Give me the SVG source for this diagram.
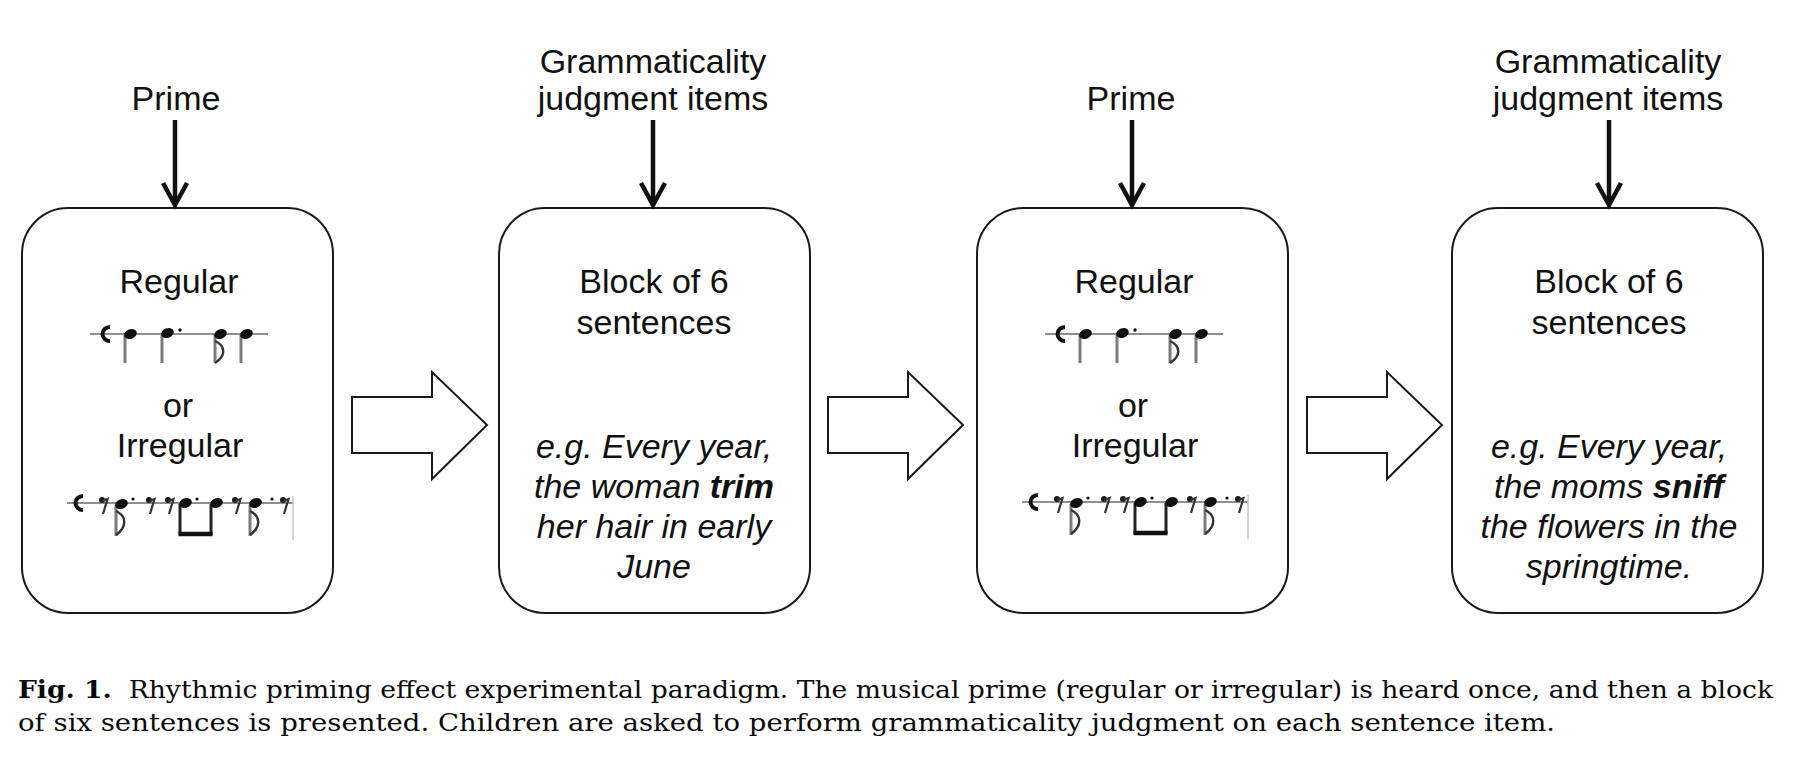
<svg xmlns="http://www.w3.org/2000/svg" xmlns:xlink="http://www.w3.org/1999/xlink" width="1817" height="760" viewBox="0 0 1817 760">
<style>
.box{fill:#fff;stroke:#1a1a1a;stroke-width:2}
.blk{fill:#fff;stroke:#1a1a1a;stroke-width:2;stroke-linejoin:miter}
.t{font-family:"Liberation Sans",Arial,sans-serif;font-size:34px;fill:#111;text-anchor:middle}
.it{font-style:italic}
.b{font-weight:bold}
.cap{font-family:"DejaVu Serif","Liberation Serif",serif;font-size:25px;fill:#0a0a0a}
.shaft{stroke:#111;stroke-width:4.5;fill:none}
.head{stroke:#111;stroke-width:4.5;fill:none;stroke-linejoin:miter}
.staff{stroke:#8f8f8f;stroke-width:2.2}
.stem{stroke:#7a7a7a;stroke-width:3}
.nh{fill:#111}
.flag{fill:none;stroke:#333;stroke-width:2.4}
.ct{fill:none;stroke:#111;stroke-width:4}
</style>
<defs>
<g id="regular">
<line class="staff" x1="90" y1="334" x2="268" y2="334"/>
<path class="ct" d="M110,327 A7.5,7 0 1 0 110,341"/>
<line class="stem" x1="125" y1="335" x2="125" y2="363"/>
<line class="stem" x1="162" y1="335" x2="162" y2="363"/>
<line class="stem" x1="215" y1="335" x2="215" y2="363"/>
<line class="stem" x1="241" y1="335" x2="241" y2="363"/>
<path class="flag" d="M215,341 C226,346 226,356 215,363"/>
<ellipse class="nh" cx="130.5" cy="334" rx="6.5" ry="4.8" transform="rotate(-20 130.5 334)"/>
<ellipse class="nh" cx="167.5" cy="333" rx="6.5" ry="4.8" transform="rotate(-20 167.5 333)"/>
<ellipse class="nh" cx="220.5" cy="334" rx="6.5" ry="4.8" transform="rotate(-20 220.5 334)"/>
<ellipse class="nh" cx="246.5" cy="334" rx="6.5" ry="4.8" transform="rotate(-20 246.5 334)"/>
<circle class="nh" cx="180" cy="330" r="1.7"/>
</g>
<g id="rest">
<circle cx="-2" cy="500" r="3" fill="#1a1a1a"/>
<path d="M-2,501 L3.5,499 L-1,514" fill="none" stroke="#333" stroke-width="2.2"/>
</g>
<g id="irregular">
<line class="staff" x1="67" y1="503" x2="293" y2="503"/>
<line x1="293" y1="496" x2="293" y2="540" stroke="#c8c8c8" stroke-width="1.5"/>
<path class="ct" d="M83,496 A7.5,7 0 1 0 83,510"/>
<use xlink:href="#rest" x="104"/>
<use xlink:href="#rest" x="151"/>
<use xlink:href="#rest" x="170"/>
<use xlink:href="#rest" x="237"/>
<use xlink:href="#rest" x="285"/>
<line class="stem" x1="116" y1="505" x2="116" y2="536"/>
<path class="flag" d="M116,511 C127,516 127,527 116,535"/>
<ellipse class="nh" cx="121.5" cy="504" rx="6.5" ry="4.8" transform="rotate(-20 121.5 504)"/>
<circle class="nh" cx="133" cy="499" r="1.6"/>
<line x1="180" y1="504" x2="180" y2="535" stroke="#222" stroke-width="3"/>
<line x1="211" y1="504" x2="211" y2="535" stroke="#222" stroke-width="3"/>
<line x1="178.5" y1="534" x2="212.5" y2="534" stroke="#111" stroke-width="4.5"/>
<ellipse class="nh" cx="185.5" cy="503" rx="6.5" ry="4.8" transform="rotate(-20 185.5 503)"/>
<ellipse class="nh" cx="216.5" cy="503" rx="6.5" ry="4.8" transform="rotate(-20 216.5 503)"/>
<circle class="nh" cx="197" cy="499" r="1.6"/>
<line class="stem" x1="250" y1="505" x2="250" y2="536"/>
<path class="flag" d="M250,511 C261,516 261,527 250,535"/>
<ellipse class="nh" cx="255.5" cy="503" rx="6.5" ry="4.8" transform="rotate(-20 255.5 503)"/>
<circle class="nh" cx="272" cy="499" r="1.6"/>
</g>
</defs>
<rect width="1817" height="760" fill="#fff"/>

<g id="label-prime-1">
<text class="t" x="176" y="110">Prime</text>
</g>
<g id="label-gram-1">
<text class="t" x="653" y="73">Grammaticality</text>
<text class="t" x="653" y="110">judgment items</text>
</g>
<g id="label-prime-2">
<text class="t" x="1131" y="110">Prime</text>
</g>
<g id="label-gram-2">
<text class="t" x="1608" y="73">Grammaticality</text>
<text class="t" x="1608" y="110">judgment items</text>
</g>

<g id="node-prime-1">
<rect class="box" x="22" y="208" width="311" height="405" rx="46" ry="46"/>
<text class="t" x="179" y="293">Regular</text>
<use xlink:href="#regular"/>
<text class="t" x="178" y="417">or</text>
<text class="t" x="180" y="457">Irregular</text>
<use xlink:href="#irregular"/>
</g>

<g id="node-block-1">
<rect class="box" x="499" y="208" width="311" height="405" rx="46" ry="46"/>
<text class="t" x="654" y="293">Block of 6</text>
<text class="t" x="654" y="334">sentences</text>
<text class="t it" x="654" y="458">e.g. Every year,</text>
<text class="t it" x="654" y="498">the woman <tspan class="b">trim</tspan></text>
<text class="t it" x="654" y="538">her hair in early</text>
<text class="t it" x="654" y="578">June</text>
</g>

<g id="node-prime-2">
<rect class="box" x="977" y="208" width="311" height="405" rx="46" ry="46"/>
<text class="t" x="1134" y="293">Regular</text>
<use xlink:href="#regular" x="955"/>
<text class="t" x="1133" y="417">or</text>
<text class="t" x="1135" y="457">Irregular</text>
<use xlink:href="#irregular" x="955" y="-1"/>
</g>

<g id="node-block-2">
<rect class="box" x="1452" y="208" width="311" height="405" rx="46" ry="46"/>
<text class="t" x="1609" y="293">Block of 6</text>
<text class="t" x="1609" y="334">sentences</text>
<text class="t it" x="1609" y="458">e.g. Every year,</text>
<text class="t it" x="1609" y="498">the moms <tspan class="b">sniff</tspan></text>
<text class="t it" x="1609" y="538">the flowers in the</text>
<text class="t it" x="1609" y="578">springtime.</text>
</g>

<g id="connectors">
<line class="shaft" x1="175" y1="120" x2="175" y2="205"/>
<polyline class="head" points="163,183 175,205 187,183"/>
<line class="shaft" x1="653" y1="120" x2="653" y2="205"/>
<polyline class="head" points="641,183 653,205 665,183"/>
<line class="shaft" x1="1132" y1="120" x2="1132" y2="205"/>
<polyline class="head" points="1120,183 1132,205 1144,183"/>
<line class="shaft" x1="1609" y1="120" x2="1609" y2="205"/>
<polyline class="head" points="1597,183 1609,205 1621,183"/>
<polygon class="blk" points="352,397 432,397 432,372 487,425 432,479 432,453 352,453"/>
<polygon class="blk" points="828,397 908,397 908,372 963,425 908,479 908,453 828,453"/>
<polygon class="blk" points="1307,397 1387,397 1387,372 1442,425 1387,479 1387,453 1307,453"/>
</g>

<g id="caption">
<text class="cap" x="18" y="698" textLength="1755" lengthAdjust="spacingAndGlyphs"><tspan font-weight="bold">Fig. 1.</tspan><tspan dx="8"> Rhythmic priming effect experimental paradigm. The musical prime (regular or irregular) is heard once, and then a block</tspan></text>
<text class="cap" x="18" y="731" textLength="1537" lengthAdjust="spacingAndGlyphs">of six sentences is presented. Children are asked to perform grammaticality judgment on each sentence item.</text>
</g>
</svg>
